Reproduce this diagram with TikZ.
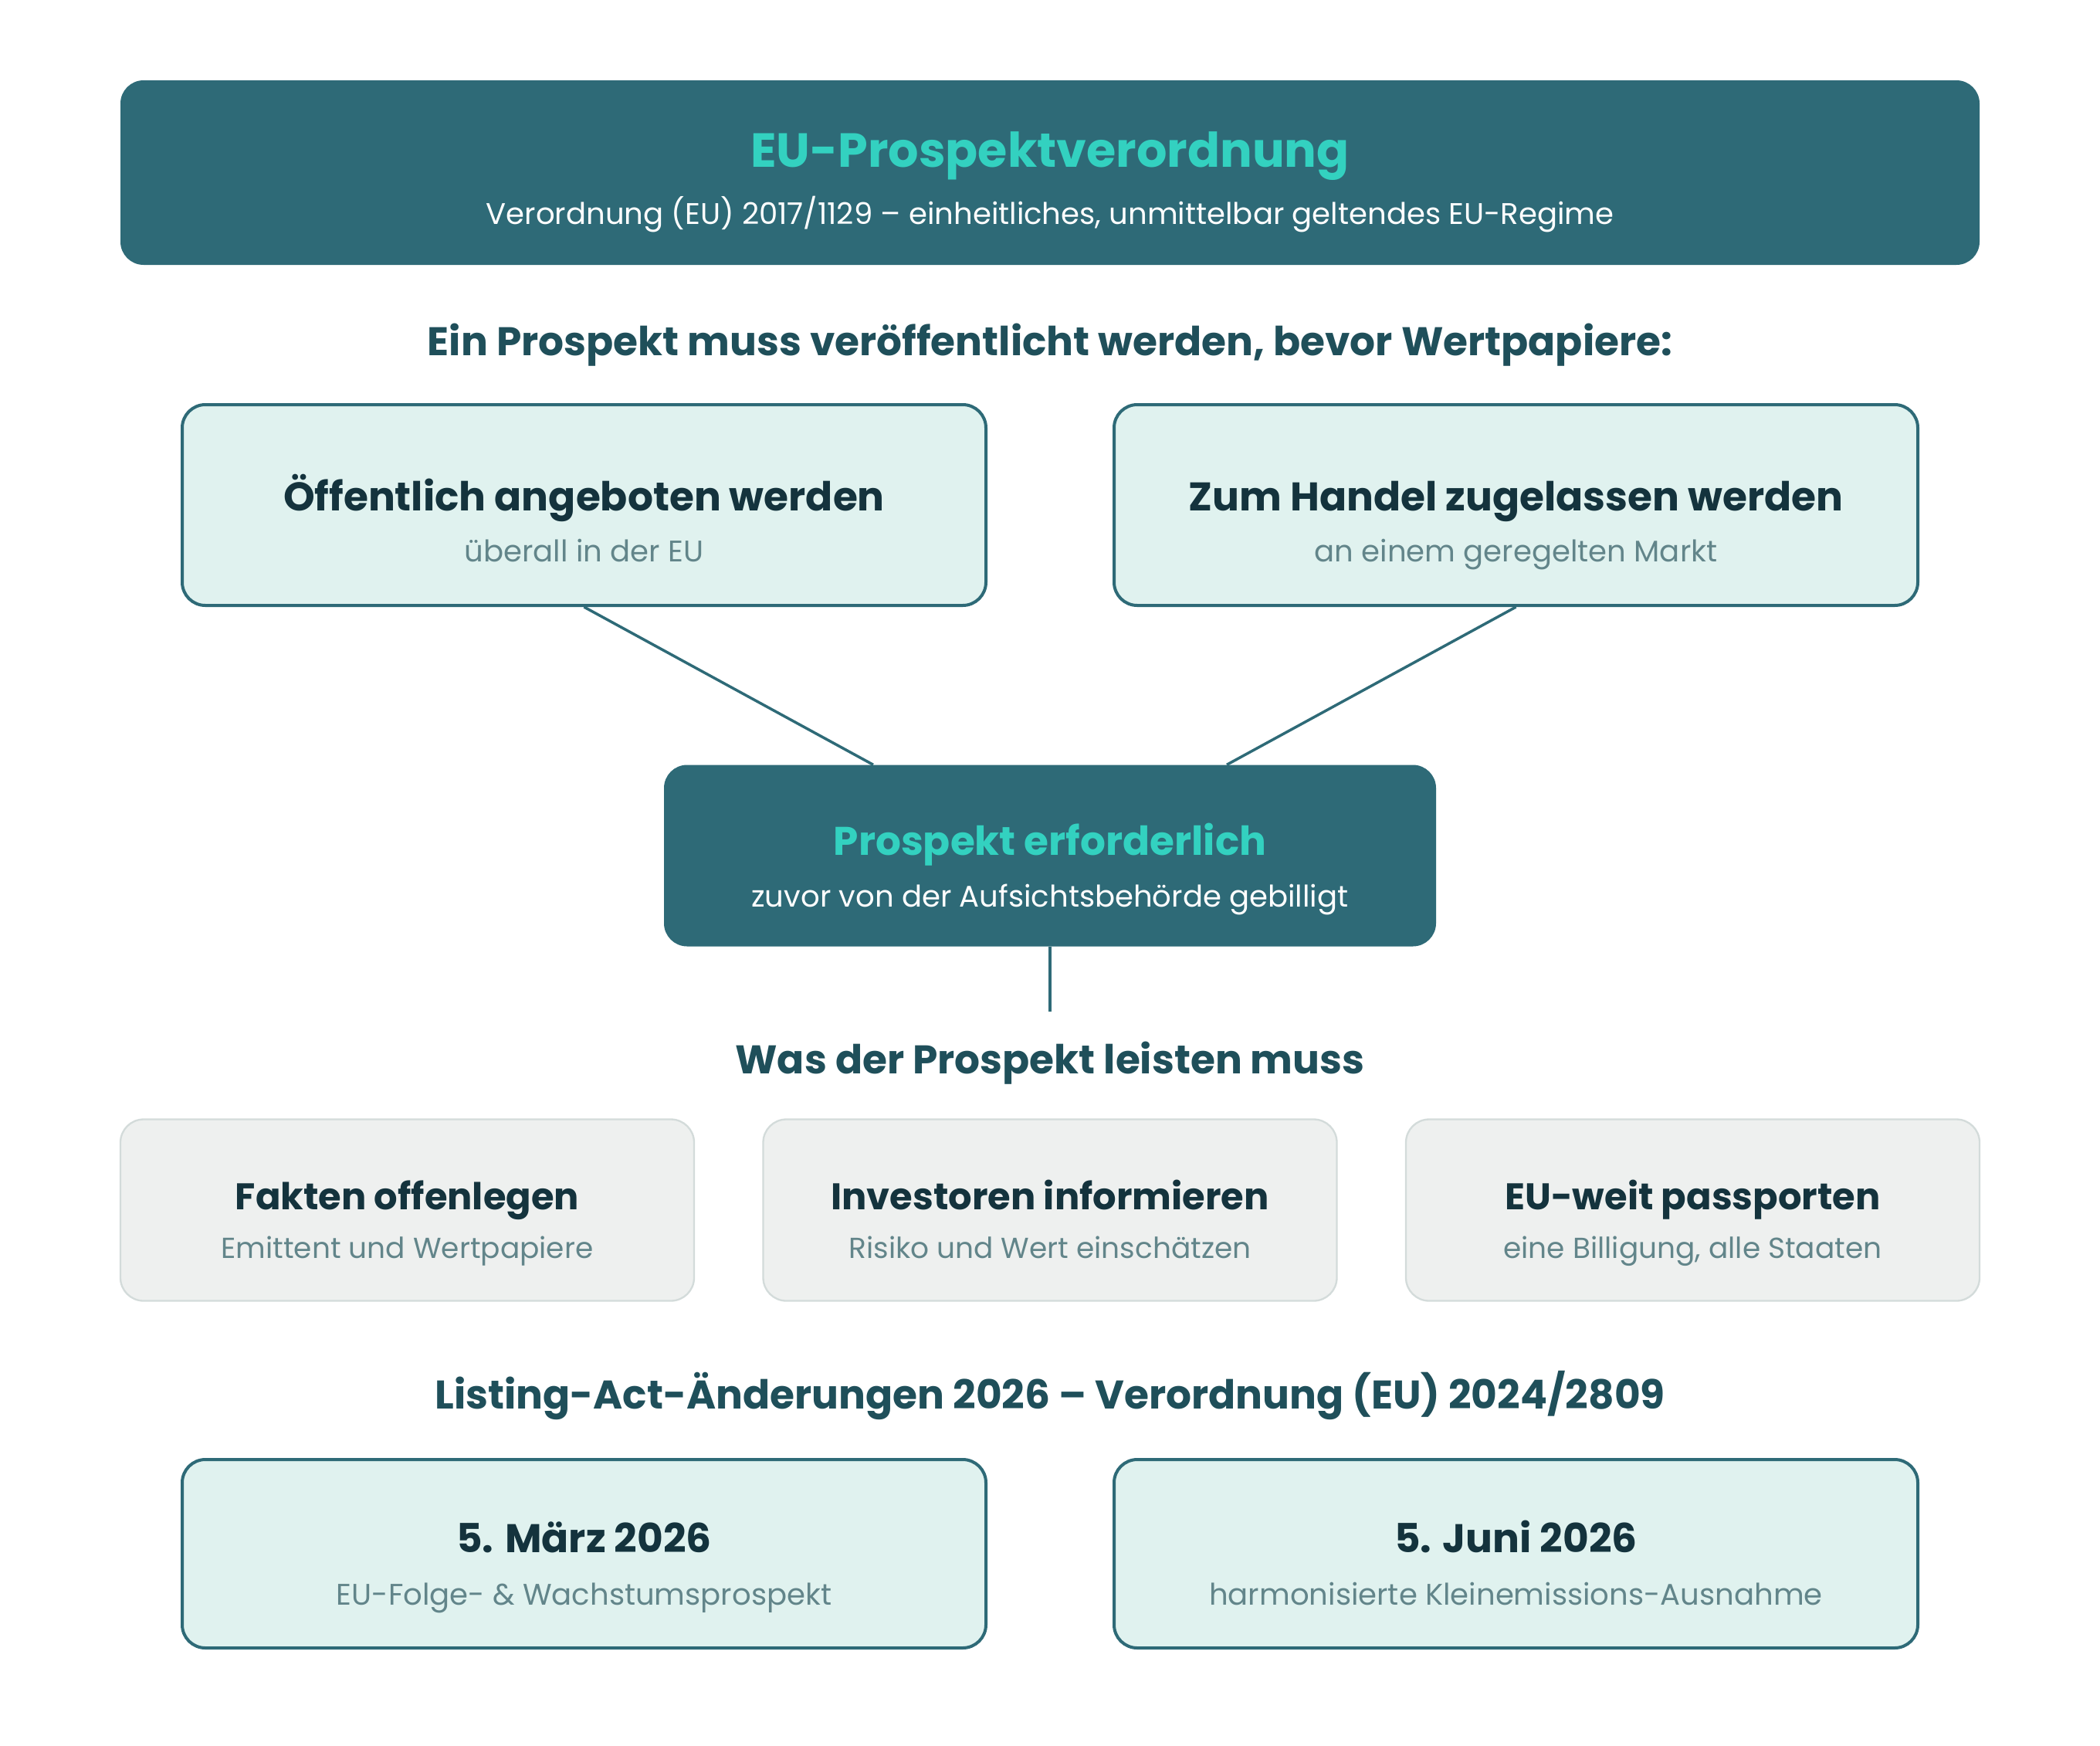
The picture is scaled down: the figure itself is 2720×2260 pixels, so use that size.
\documentclass[tikz,border=0pt]{standalone}
\usepackage{fontspec}
\setmainfont{Poppins}
\definecolor{cTeal}{HTML}{2E6A77}
\definecolor{cAqua}{HTML}{33D1C0}
\definecolor{cHead}{HTML}{1F4F5A}
\definecolor{cDark}{HTML}{14333D}
\definecolor{cSub}{HTML}{62858A}
\definecolor{cLight}{HTML}{E0F2EF}
\definecolor{cGray}{HTML}{EEF0EF}
\definecolor{cGrayLine}{HTML}{D3DBDA}
\tikzset{
  darkbox/.style={fill=cTeal, draw=none, rounded corners=30pt, inner sep=0pt},
  lightbox/.style={fill=cLight, draw=cTeal, line width=4pt, rounded corners=30pt, inner sep=0pt},
  graybox/.style={fill=cGray, draw=cGrayLine, line width=2.3pt, rounded corners=30pt, inner sep=0pt},
  conn/.style={draw=cTeal, line width=3.5pt},
  txt/.style={inner sep=0pt, anchor=base},
  bigtitle/.style={txt, font=\fontsize{62}{74}\selectfont\bfseries, text=cAqua},
  midtitle/.style={txt, font=\fontsize{51.7}{62}\selectfont\bfseries, text=cAqua},
  whitesub/.style={txt, font=\fontsize{38.6}{46}\selectfont, text=white},
  heading/.style={txt, font=\fontsize{51.8}{62}\selectfont\bfseries, text=cHead},
  btitle/.style={txt, font=\fontsize{51.8}{62}\selectfont\bfseries, text=cDark},
  bsub/.style={txt, font=\fontsize{38.6}{46}\selectfont, text=cSub},
  gtitle/.style={txt, font=\fontsize{48}{58}\selectfont\bfseries, text=cDark},
  gsub/.style={txt, font=\fontsize{37.5}{45}\selectfont, text=cSub},
}
\begin{document}
\begin{tikzpicture}[x=1pt,y=-1pt]
\useasboundingbox[fill=white] (0,0) rectangle (2720,2260);
% title
\node[darkbox, minimum width=2408pt, minimum height=239pt] (top) at (1360,223.5) {};
\node[bigtitle] (toptitle) at (1360,216.5) {EU-Prospektverordnung};
\node[whitesub] (topsub) at (1360,290) {Verordnung (EU) 2017/1129 – einheitliches, unmittelbar geltendes EU-Regime};
% heading 1
\node[heading] (h1) at (1360,460.5) {Ein Prospekt muss veröffentlicht werden, bevor Wertpapiere:};
% two boxes
\node[lightbox, minimum width=1041pt, minimum height=260pt] (a) at (756.5,654) {};
\node[btitle] (at) at (756.5,661) {Öffentlich angeboten werden};
\node[bsub] (as) at (756.5,727.5) {überall in der EU};
\node[lightbox, minimum width=1041pt, minimum height=260pt] (b) at (1963.5,654) {};
\node[btitle] (bt) at (1963.5,661) {Zum Handel zugelassen werden};
\node[bsub] (bs) at (1963.5,727.5) {an einem geregelten Markt};
% middle
\node[darkbox, minimum width=1000pt, minimum height=235pt] (mid) at (1360,1108) {};
\node[midtitle] (midt) at (1360,1107) {Prospekt erforderlich};
\node[whitesub] (mids) at (1360,1174) {zuvor von der Aufsichtsbehörde gebilligt};
\draw[conn] (a.south) -- ([xshift=-229pt]mid.north);
\draw[conn] (b.south) -- ([xshift=229pt]mid.north);
\coordinate (down) at (1360,1310);
\draw[conn] (mid.south) -- (down);
% heading 2
\node[heading] (h2) at (1360,1390.5) {Was der Prospekt leisten muss};
% gray boxes
\node[graybox, minimum width=743pt, minimum height=235pt] (g1) at (527.5,1567) {};
\node[gtitle] (g1t) at (527.5,1566.5) {Fakten offenlegen};
\node[gsub] (g1s) at (527.5,1629) {Emittent und Wertpapiere};
\node[graybox, minimum width=743pt, minimum height=235pt] (g2) at (1360,1567) {};
\node[gtitle] (g2t) at (1360,1566.5) {Investoren informieren};
\node[gsub] (g2s) at (1360,1629) {Risiko und Wert einschätzen};
\node[graybox, minimum width=743pt, minimum height=235pt] (g3) at (2192.5,1567) {};
\node[gtitle] (g3t) at (2192.5,1566.5) {EU-weit passporten};
\node[gsub] (g3s) at (2192.5,1629) {eine Billigung, alle Staaten};
% heading 3
\node[heading] (h3) at (1360,1824) {Listing-Act-Änderungen 2026 – Verordnung (EU) 2024/2809};
% bottom boxes
\node[lightbox, minimum width=1041pt, minimum height=244pt] (c) at (756.5,2012) {};
\node[btitle] (ct) at (756.5,2010) {5. März 2026};
\node[bsub] (cs) at (756.5,2078) {EU-Folge- \& Wachstumsprospekt};
\node[lightbox, minimum width=1041pt, minimum height=244pt] (d) at (1963.5,2012) {};
\node[btitle] (dt) at (1963.5,2010) {5. Juni 2026};
\node[bsub] (ds) at (1963.5,2078) {harmonisierte Kleinemissions-Ausnahme};
\end{tikzpicture}
\end{document}
